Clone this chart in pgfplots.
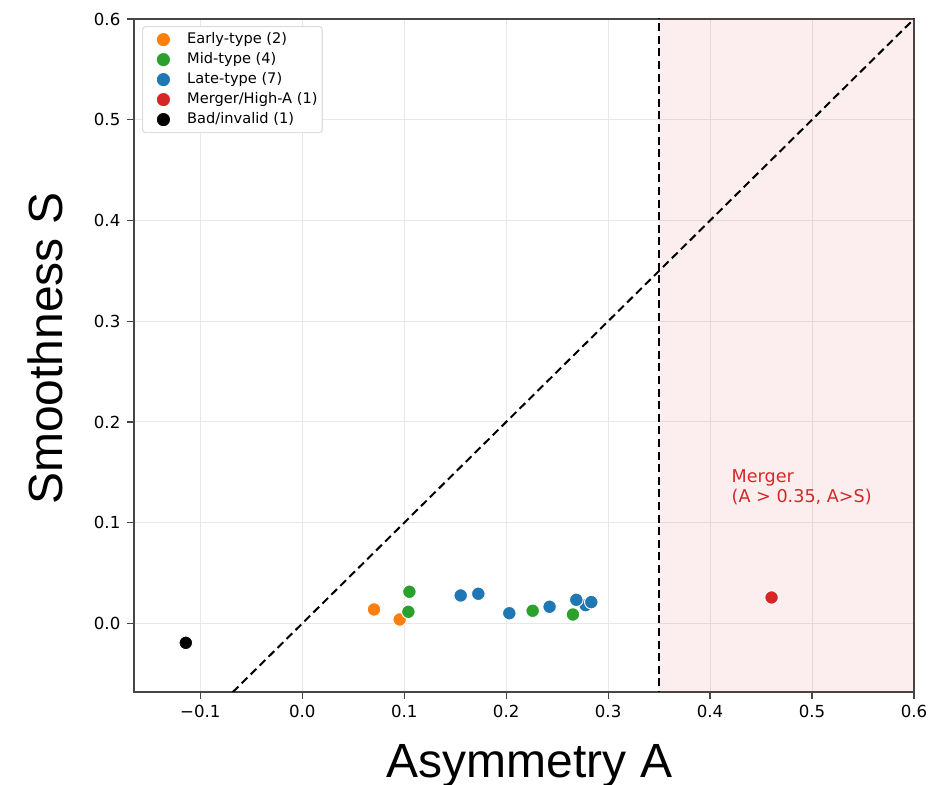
\documentclass[border=0pt]{standalone}
\usepackage{fontspec}
\setmainfont{DejaVu Sans}
\newfontfamily\arialfont{Liberation Sans}
\usepackage{pgfplots}
\pgfplotsset{compat=1.18}
\definecolor{tabblue}{RGB}{31,119,180}
\definecolor{taborange}{RGB}{255,127,14}
\definecolor{tabgreen}{RGB}{44,160,44}
\definecolor{tabred}{RGB}{214,39,40}
\definecolor{gridgray}{RGB}{232,232,232}
\definecolor{framegray}{RGB}{70,70,70}
\begin{document}
\begin{tikzpicture}
\useasboundingbox (-67pt,-46.5pt) rectangle (399pt,346pt);
\begin{axis}[
  at={(0,0)}, anchor=south west,
  scale only axis,
  width=390pt, height=336.5pt,
  xmin=-0.165, xmax=0.6,
  ymin=-0.068, ymax=0.6,
  xtick={-0.1,0,0.1,0.2,0.3,0.4,0.5,0.6},
  xticklabels={−0.1,0.0,0.1,0.2,0.3,0.4,0.5,0.6},
  ytick={0,0.1,0.2,0.3,0.4,0.5,0.6},
  yticklabels={0.0,0.1,0.2,0.3,0.4,0.5,0.6},
  xtick pos=bottom, ytick pos=left,
  tick align=outside,
  major tick length=3.3pt,
  tick style={color=framegray, line width=0.6pt},
  tick label style={font=\fontsize{8.3}{10}\selectfont, text=black},
  grid=major,
  grid style={color=gridgray, line width=0.5pt},
  axis line style={color=framegray, line width=0.9pt},
  xlabel={\arialfont\fontsize{24}{28}\selectfont Asymmetry A},
  ylabel={\arialfont\fontsize{24}{28}\selectfont Smoothness S},
  xlabel style={at={(axis description cs:0.507,-0.1265)}, anchor=base},
  ylabel style={at={(axis description cs:-0.0923,0.51)}, anchor=base, rotate=0},
  legend cell align=left,
  legend style={at={(axis description cs:0.0103,0.9896)}, anchor=north west,
    draw=black!13, rounded corners=1.5pt, line width=0.6pt,
    font=\fontsize{7.3}{8.5}\selectfont,
    row sep=1.35pt, inner xsep=0pt, inner ysep=2.2pt,
    nodes={inner xsep=2.4pt, inner ysep=0.8pt},
    fill=white},
  legend image code/.code={\path (-10.1pt,0pt) (9.2pt,0pt); \draw[#1,mark size=3.6pt] plot coordinates {(0pt,0pt)};},
  clip=true,
]
% merger region
\addplot[draw=none, fill=tabred, fill opacity=0.08, forget plot]
  coordinates {(0.35,-0.2) (0.7,-0.2) (0.7,0.7) (0.35,0.7) (0.35,-0.2)};
% y = x line
\addplot[black, line width=1pt, dash pattern=on 4pt off 2.3pt, forget plot]
  coordinates {(-0.2,-0.2) (0.7,0.7)};
% A = 0.35
\addplot[black, line width=1pt, dash pattern=on 4pt off 2.3pt, forget plot]
  coordinates {(0.35,-0.2) (0.35,0.7)};
% scatter
\addplot[only marks, mark=*, mark size=3.4pt, mark options={fill=taborange, draw=white, line width=0.5pt}]
  coordinates {(0.0704,0.0139) (0.0956,0.0040)};
\addlegendentry{Early-type (2)}
\addplot[only marks, mark=*, mark size=3.4pt, mark options={fill=tabgreen, draw=white, line width=0.5pt}]
  coordinates {(0.1051,0.0315) (0.1041,0.0116) (0.2260,0.0126) (0.2655,0.0089)};
\addlegendentry{Mid-type (4)}
\addplot[only marks, mark=*, mark size=3.4pt, mark options={fill=tabblue, draw=white, line width=0.5pt}]
  coordinates {(0.1554,0.0278) (0.1727,0.0295) (0.2031,0.0102) (0.2426,0.0166) (0.2779,0.0182) (0.2688,0.0235) (0.2835,0.0212)};
\addlegendentry{Late-type (7)}
\addplot[only marks, mark=*, mark size=3.4pt, mark options={fill=tabred, draw=white, line width=0.5pt}]
  coordinates {(0.4603,0.0258)};
\addlegendentry{Merger/High-A (1)}
\addplot[only marks, mark=*, mark size=3.4pt, mark options={fill=black, draw=white, line width=0.5pt}]
  coordinates {(-0.1142,-0.0192)};
\addlegendentry{Bad/invalid (1)}
\node[anchor=south west, inner sep=0pt, align=left, text=tabred, font=\fontsize{8.8}{10.4}\selectfont]
  at (axis cs:0.4208,0.117) {Merger\\(A > 0.35, A>S)};
\end{axis}
\end{tikzpicture}
\end{document}
